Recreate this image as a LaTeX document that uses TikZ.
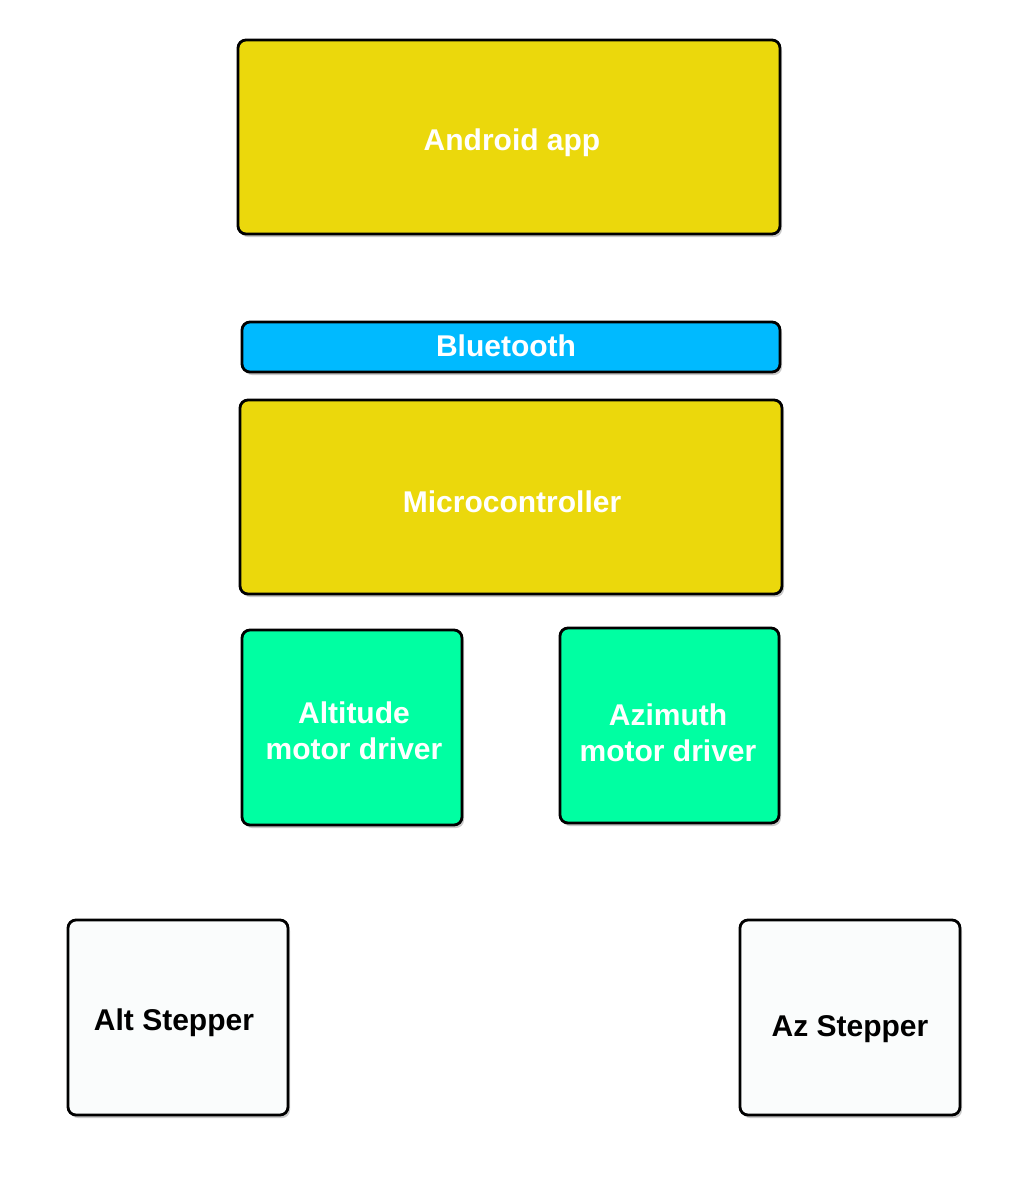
\documentclass[tikz,border=0pt]{standalone}
\usepackage{fontspec}
\setmainfont{Liberation Sans}
\usetikzlibrary{shadows}
\definecolor{ayellow}{HTML}{EBD80C}
\definecolor{ablue}{HTML}{00BAFF}
\definecolor{agreen}{HTML}{00FFA2}
\definecolor{awhite}{HTML}{FAFCFC}
\tikzset{
  blk/.style={draw=black, line width=2.8pt, rounded corners=8pt,
    drop shadow={shadow xshift=2pt, shadow yshift=-3pt, opacity=0.35, fill=black!60},
    inner sep=0pt},
  lbl/.style={font=\fontsize{30}{36}\selectfont\bfseries, align=center, inner sep=0pt},
}
\newcommand{\boxat}[6]{% name, x1, y1, x2, y2, fill
  \node[blk, fill=#6, minimum width={(#4-#2)*1pt}, minimum height={(#5-#3)*1pt}]
    (#1) at ({(#2+#4)/2*1pt}, {-(#3+#5)/2*1pt}) {};}
\begin{document}
\begin{tikzpicture}[x=1pt,y=1pt]
\useasboundingbox[fill=white] (0,0) rectangle (1024,-1200);
\boxat{android}{238}{40}{780}{234}{ayellow}
\boxat{bt}{242}{322}{780}{372}{ablue}
\boxat{mcu}{240}{400}{782}{594}{ayellow}
\boxat{alt}{242}{630}{462}{825}{agreen}
\boxat{az}{560}{628}{779}{823}{agreen}
\boxat{altst}{68}{920}{288}{1115}{awhite}
\boxat{azst}{740}{920}{960}{1115}{awhite}
\node[lbl, text=white] (tandroid) at (512,-142.5) {Android app};
\node[lbl, text=white] (tbt) at (506,-346) {Bluetooth};
\node[lbl, text=white] (tmcu) at (512,-502) {Microcontroller};
\node[lbl, text=white] (talt) at (354,-731) {Altitude\\motor driver};
\node[lbl, text=white] (taz) at (668,-733) {Azimuth\\motor driver};
\node[lbl, text=black] (taltst) at (174,-1023) {Alt Stepper};
\node[lbl, text=black] (tazst) at (850,-1029) {Az Stepper};
\end{tikzpicture}
\end{document}
